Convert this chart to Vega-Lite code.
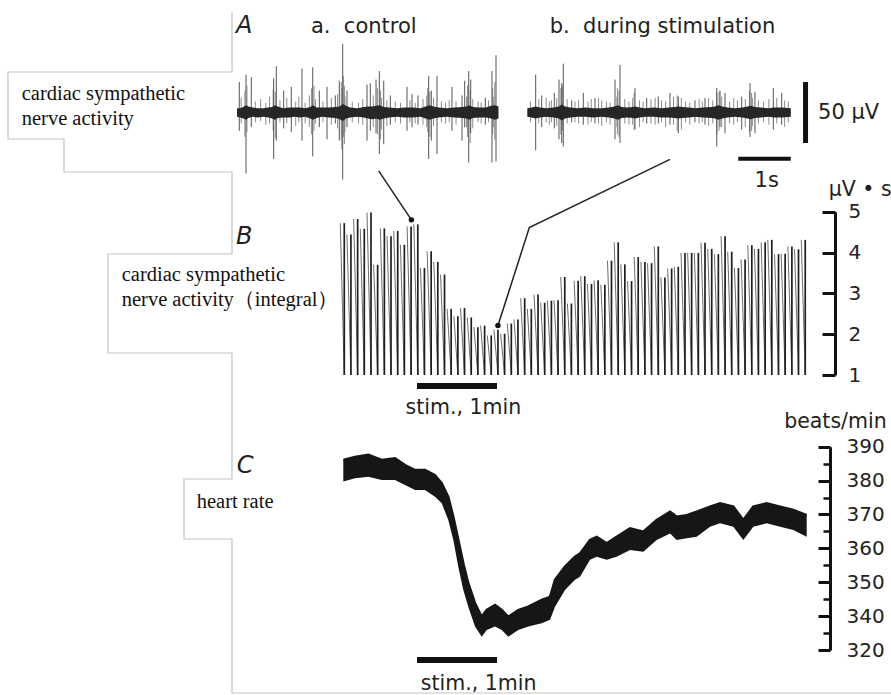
{
  "$schema": "https://vega.github.io/schema/vega-lite/v6.json",
  "width": 891,
  "height": 695,
  "autosize": {"type": "none"},
  "padding": 0,
  "background": "white",
  "config": {"view": {"stroke": null}, "axis": {"grid": false, "labelFont": "DejaVu Sans", "labelColor": "#222", "tickColor": "#111", "domainColor": "#111"}},
  "datasets": {
    "rawBand": [
      {"seg":"a","t":0.00,"lo":-3.5,"hi":3.5},{"seg":"a","t":0.06,"lo":-4,"hi":3.5},{"seg":"a","t":0.12,"lo":-5,"hi":4.5},{"seg":"a","t":0.17,"lo":-6,"hi":6},{"seg":"a","t":0.22,"lo":-4.5,"hi":5},{"seg":"a","t":0.30,"lo":-3.5,"hi":4},{"seg":"a","t":0.40,"lo":-4,"hi":3.5},{"seg":"a","t":0.50,"lo":-3.5,"hi":3.5},{"seg":"a","t":0.60,"lo":-4,"hi":4},{"seg":"a","t":0.67,"lo":-5,"hi":4.5},{"seg":"a","t":0.72,"lo":-6,"hi":6},{"seg":"a","t":0.78,"lo":-4.5,"hi":5},{"seg":"a","t":0.88,"lo":-4,"hi":3.5},{"seg":"a","t":1.00,"lo":-4,"hi":4},{"seg":"a","t":1.10,"lo":-3.5,"hi":4},{"seg":"a","t":1.20,"lo":-4,"hi":4},{"seg":"a","t":1.30,"lo":-3.5,"hi":3.5},{"seg":"a","t":1.40,"lo":-5,"hi":4.5},{"seg":"a","t":1.45,"lo":-6,"hi":6},{"seg":"a","t":1.52,"lo":-4.5,"hi":4},{"seg":"a","t":1.62,"lo":-3.5,"hi":4},{"seg":"a","t":1.75,"lo":-4,"hi":4},{"seg":"a","t":1.88,"lo":-4.5,"hi":4.5},{"seg":"a","t":1.96,"lo":-5.5,"hi":5},{"seg":"a","t":2.02,"lo":-7,"hi":7},{"seg":"a","t":2.08,"lo":-5,"hi":5.5},{"seg":"a","t":2.16,"lo":-4,"hi":4},{"seg":"a","t":2.30,"lo":-3.5,"hi":3.5},{"seg":"a","t":2.42,"lo":-4,"hi":4.5},{"seg":"a","t":2.50,"lo":-5,"hi":5},{"seg":"a","t":2.58,"lo":-5.5,"hi":5},{"seg":"a","t":2.66,"lo":-5,"hi":5.5},{"seg":"a","t":2.72,"lo":-6,"hi":6},{"seg":"a","t":2.80,"lo":-5,"hi":4.5},{"seg":"a","t":2.90,"lo":-4,"hi":4},{"seg":"a","t":3.05,"lo":-3.5,"hi":3.5},{"seg":"a","t":3.20,"lo":-4,"hi":4},{"seg":"a","t":3.35,"lo":-4,"hi":4},{"seg":"a","t":3.50,"lo":-3.5,"hi":3.5},{"seg":"a","t":3.60,"lo":-5,"hi":5},{"seg":"a","t":3.67,"lo":-6,"hi":6},{"seg":"a","t":3.75,"lo":-5,"hi":5},{"seg":"a","t":3.85,"lo":-4,"hi":4},{"seg":"a","t":4.00,"lo":-3.5,"hi":3.5},{"seg":"a","t":4.15,"lo":-4,"hi":4},{"seg":"a","t":4.30,"lo":-4.5,"hi":4.5},{"seg":"a","t":4.38,"lo":-5,"hi":5},{"seg":"a","t":4.43,"lo":-6,"hi":6},{"seg":"a","t":4.50,"lo":-4.5,"hi":4.5},{"seg":"a","t":4.62,"lo":-4,"hi":4},{"seg":"a","t":4.75,"lo":-4,"hi":4},{"seg":"a","t":4.85,"lo":-5,"hi":5.5},{"seg":"a","t":4.92,"lo":-6,"hi":6},{"seg":"a","t":4.99,"lo":-5,"hi":5},
      {"seg":"b","t":5.54,"lo":-3.5,"hi":3.5},{"seg":"b","t":5.62,"lo":-4,"hi":4},{"seg":"b","t":5.70,"lo":-5,"hi":5},{"seg":"b","t":5.78,"lo":-4,"hi":4},{"seg":"b","t":5.90,"lo":-3.5,"hi":3.5},{"seg":"b","t":6.05,"lo":-4,"hi":4},{"seg":"b","t":6.14,"lo":-5,"hi":5},{"seg":"b","t":6.20,"lo":-6.5,"hi":6.5},{"seg":"b","t":6.26,"lo":-5,"hi":5},{"seg":"b","t":6.36,"lo":-4,"hi":4},{"seg":"b","t":6.50,"lo":-3.5,"hi":3.5},{"seg":"b","t":6.65,"lo":-3.5,"hi":4},{"seg":"b","t":6.80,"lo":-4,"hi":3.5},{"seg":"b","t":6.95,"lo":-3.5,"hi":3.5},{"seg":"b","t":7.10,"lo":-4,"hi":4},{"seg":"b","t":7.20,"lo":-5,"hi":5},{"seg":"b","t":7.27,"lo":-6,"hi":6},{"seg":"b","t":7.34,"lo":-4.5,"hi":4.5},{"seg":"b","t":7.45,"lo":-4,"hi":4},{"seg":"b","t":7.55,"lo":-4.5,"hi":4.5},{"seg":"b","t":7.60,"lo":-5,"hi":5},{"seg":"b","t":7.68,"lo":-4,"hi":4},{"seg":"b","t":7.80,"lo":-3.5,"hi":3.5},{"seg":"b","t":7.95,"lo":-3.5,"hi":4},{"seg":"b","t":8.10,"lo":-4,"hi":3.5},{"seg":"b","t":8.25,"lo":-4,"hi":4},{"seg":"b","t":8.35,"lo":-4.5,"hi":4.5},{"seg":"b","t":8.42,"lo":-5,"hi":5},{"seg":"b","t":8.50,"lo":-4.5,"hi":4.5},{"seg":"b","t":8.62,"lo":-4,"hi":4},{"seg":"b","t":8.75,"lo":-3.5,"hi":3.5},{"seg":"b","t":8.90,"lo":-4,"hi":4},{"seg":"b","t":9.05,"lo":-4.5,"hi":4.5},{"seg":"b","t":9.12,"lo":-5,"hi":5},{"seg":"b","t":9.18,"lo":-6,"hi":6},{"seg":"b","t":9.26,"lo":-5,"hi":5},{"seg":"b","t":9.36,"lo":-4,"hi":4},{"seg":"b","t":9.50,"lo":-3.5,"hi":3.5},{"seg":"b","t":9.65,"lo":-4,"hi":4},{"seg":"b","t":9.74,"lo":-5,"hi":5},{"seg":"b","t":9.80,"lo":-5.5,"hi":5.5},{"seg":"b","t":9.88,"lo":-4.5,"hi":4.5},{"seg":"b","t":10.00,"lo":-4,"hi":4},{"seg":"b","t":10.15,"lo":-3.5,"hi":3.5},{"seg":"b","t":10.25,"lo":-4,"hi":4},{"seg":"b","t":10.40,"lo":-4,"hi":4},{"seg":"b","t":10.57,"lo":-3.5,"hi":3.5}
    ],
    "rawSpikes": [
      {"t":0.044,"lo":-15,"hi":25},{"t":0.172,"lo":-50,"hi":31},{"t":0.273,"lo":-12,"hi":29},{"t":0.700,"lo":-38,"hi":28},{"t":0.750,"lo":-23,"hi":38},{"t":0.891,"lo":-13,"hi":18},{"t":1.036,"lo":-16,"hi":21},{"t":1.240,"lo":-23,"hi":36},{"t":1.445,"lo":-36,"hi":37},{"t":1.571,"lo":-12,"hi":18},{"t":1.718,"lo":-22,"hi":21},{"t":1.876,"lo":-9,"hi":14},{"t":1.952,"lo":-23,"hi":26},{"t":2.017,"lo":-55,"hi":56},{"t":2.099,"lo":-12,"hi":18},{"t":2.481,"lo":-23,"hi":23},{"t":2.544,"lo":-15,"hi":24},{"t":2.653,"lo":-17,"hi":27},{"t":2.716,"lo":-34,"hi":34},{"t":2.800,"lo":-26,"hi":26},{"t":2.926,"lo":-10,"hi":14},{"t":3.244,"lo":-15,"hi":21},{"t":3.340,"lo":-12,"hi":15},{"t":3.454,"lo":-10,"hi":14},{"t":3.658,"lo":-38,"hi":30},{"t":3.708,"lo":-23,"hi":18},{"t":3.817,"lo":-34,"hi":30},{"t":4.103,"lo":-15,"hi":21},{"t":4.294,"lo":-23,"hi":14},{"t":4.345,"lo":-12,"hi":26},{"t":4.422,"lo":-41,"hi":34},{"t":4.460,"lo":-17,"hi":27},{"t":4.739,"lo":-10,"hi":12},{"t":4.866,"lo":-41,"hi":34},{"t":4.943,"lo":-40,"hi":47},
      {"t":5.700,"lo":-31,"hi":31},{"t":5.815,"lo":-12,"hi":14},{"t":6.055,"lo":-13,"hi":16},{"t":6.145,"lo":-22,"hi":27},{"t":6.197,"lo":-25,"hi":24},{"t":6.227,"lo":-28,"hi":40},{"t":6.387,"lo":-8,"hi":10},{"t":6.609,"lo":-10,"hi":16},{"t":6.832,"lo":-9,"hi":12},{"t":7.214,"lo":-22,"hi":27},{"t":7.309,"lo":-25,"hi":39},{"t":7.595,"lo":-14,"hi":20},{"t":7.819,"lo":-9,"hi":12},{"t":8.040,"lo":-9,"hi":13},{"t":8.263,"lo":-10,"hi":16},{"t":8.422,"lo":-17,"hi":13},{"t":8.740,"lo":-8,"hi":10},{"t":8.931,"lo":-10,"hi":12},{"t":9.155,"lo":-28,"hi":20},{"t":9.218,"lo":-12,"hi":18},{"t":9.313,"lo":-17,"hi":16},{"t":9.632,"lo":-14,"hi":13},{"t":9.790,"lo":-20,"hi":24},{"t":9.885,"lo":-17,"hi":17},{"t":10.235,"lo":-14,"hi":20},{"t":10.395,"lo":-10,"hi":16}
    ],
    "rawSmall": [
      {"t":0.08,"lo":-9,"hi":12},{"t":0.15,"lo":-20,"hi":18},{"t":0.19,"lo":-16,"hi":22},{"t":0.35,"lo":-8,"hi":9},{"t":0.45,"lo":-7,"hi":11},{"t":0.55,"lo":-10,"hi":8},{"t":0.62,"lo":-9,"hi":13},{"t":0.69,"lo":-15,"hi":19},{"t":0.73,"lo":-21,"hi":17},{"t":0.82,"lo":-8,"hi":10},{"t":0.95,"lo":-9,"hi":12},{"t":1.12,"lo":-11,"hi":9},{"t":1.18,"lo":-8,"hi":13},{"t":1.30,"lo":-9,"hi":8},{"t":1.38,"lo":-12,"hi":14},{"t":1.42,"lo":-18,"hi":20},{"t":1.47,"lo":-15,"hi":22},{"t":1.50,"lo":-9,"hi":11},{"t":1.64,"lo":-8,"hi":9},{"t":1.80,"lo":-10,"hi":12},{"t":1.92,"lo":-13,"hi":15},{"t":1.99,"lo":-22,"hi":25},{"t":2.00,"lo":-30,"hi":20},{"t":2.03,"lo":-20,"hi":30},{"t":2.05,"lo":-26,"hi":22},{"t":2.06,"lo":-16,"hi":13},{"t":2.20,"lo":-8,"hi":9},{"t":2.32,"lo":-9,"hi":8},{"t":2.40,"lo":-10,"hi":11},{"t":2.60,"lo":-12,"hi":14},{"t":2.68,"lo":-18,"hi":20},{"t":2.74,"lo":-22,"hi":18},{"t":2.76,"lo":-14,"hi":12},{"t":2.86,"lo":-11,"hi":10},{"t":3.02,"lo":-8,"hi":9},{"t":3.12,"lo":-9,"hi":8},{"t":3.30,"lo":-8,"hi":10},{"t":3.40,"lo":-9,"hi":8},{"t":3.55,"lo":-10,"hi":11},{"t":3.62,"lo":-12,"hi":14},{"t":3.64,"lo":-16,"hi":20},{"t":3.68,"lo":-20,"hi":17},{"t":3.75,"lo":-11,"hi":12},{"t":3.90,"lo":-8,"hi":9},{"t":3.98,"lo":-9,"hi":8},{"t":4.05,"lo":-8,"hi":10},{"t":4.18,"lo":-10,"hi":9},{"t":4.38,"lo":-12,"hi":13},{"t":4.40,"lo":-20,"hi":22},{"t":4.45,"lo":-25,"hi":18},{"t":4.50,"lo":-13,"hi":11},{"t":4.60,"lo":-8,"hi":9},{"t":4.66,"lo":-9,"hi":8},{"t":4.80,"lo":-8,"hi":10},{"t":4.88,"lo":-18,"hi":20},{"t":4.90,"lo":-12,"hi":13},{"t":4.92,"lo":-22,"hi":25},
      {"t":5.60,"lo":-8,"hi":9},{"t":5.76,"lo":-9,"hi":11},{"t":5.90,"lo":-8,"hi":12},{"t":5.96,"lo":-10,"hi":9},{"t":6.00,"lo":-8,"hi":10},{"t":6.10,"lo":-11,"hi":12},{"t":6.18,"lo":-18,"hi":20},{"t":6.21,"lo":-15,"hi":22},{"t":6.30,"lo":-9,"hi":11},{"t":6.45,"lo":-8,"hi":9},{"t":6.52,"lo":-9,"hi":10},{"t":6.70,"lo":-10,"hi":9},{"t":6.76,"lo":-8,"hi":11},{"t":6.90,"lo":-9,"hi":12},{"t":6.96,"lo":-11,"hi":10},{"t":7.05,"lo":-8,"hi":9},{"t":7.12,"lo":-10,"hi":8},{"t":7.25,"lo":-12,"hi":13},{"t":7.26,"lo":-18,"hi":20},{"t":7.29,"lo":-20,"hi":18},{"t":7.40,"lo":-9,"hi":11},{"t":7.48,"lo":-10,"hi":9},{"t":7.55,"lo":-10,"hi":12},{"t":7.58,"lo":-14,"hi":16},{"t":7.68,"lo":-12,"hi":10},{"t":7.75,"lo":-8,"hi":9},{"t":7.90,"lo":-9,"hi":11},{"t":7.98,"lo":-10,"hi":12},{"t":8.10,"lo":-8,"hi":10},{"t":8.18,"lo":-12,"hi":9},{"t":8.33,"lo":-10,"hi":13},{"t":8.40,"lo":-15,"hi":14},{"t":8.48,"lo":-14,"hi":12},{"t":8.56,"lo":-8,"hi":9},{"t":8.64,"lo":-10,"hi":8},{"t":8.82,"lo":-9,"hi":11},{"t":8.88,"lo":-8,"hi":9},{"t":9.00,"lo":-11,"hi":12},{"t":9.08,"lo":-9,"hi":10},{"t":9.16,"lo":-18,"hi":16},{"t":9.20,"lo":-15,"hi":17},{"t":9.25,"lo":-12,"hi":13},{"t":9.40,"lo":-9,"hi":9},{"t":9.48,"lo":-10,"hi":12},{"t":9.55,"lo":-8,"hi":10},{"t":9.70,"lo":-12,"hi":11},{"t":9.78,"lo":-16,"hi":18},{"t":9.82,"lo":-15,"hi":16},{"t":9.84,"lo":-11,"hi":12},{"t":9.95,"lo":-9,"hi":10},{"t":10.05,"lo":-8,"hi":9},{"t":10.15,"lo":-10,"hi":11},{"t":10.30,"lo":-9,"hi":12},{"t":10.45,"lo":-12,"hi":10},{"t":10.52,"lo":-8,"hi":9}
    ],
    "integral": [
      {"t":-0.909,"v":4.72},{"t":-0.826,"v":4.44},{"t":-0.742,"v":4.82},{"t":-0.659,"v":4.58},{"t":-0.575,"v":4.98},{"t":-0.492,"v":3.70},{"t":-0.408,"v":4.59},{"t":-0.325,"v":4.40},{"t":-0.241,"v":4.53},{"t":-0.158,"v":4.19},
      {"t":-0.074,"v":4.64},{"t":0.010,"v":4.69},{"t":0.093,"v":3.62},{"t":0.177,"v":4.03},{"t":0.260,"v":3.77},{"t":0.344,"v":3.46},{"t":0.427,"v":2.62},{"t":0.511,"v":2.44},{"t":0.594,"v":2.64},{"t":0.678,"v":2.41},
      {"t":0.761,"v":2.17},{"t":0.845,"v":2.21},{"t":0.928,"v":1.97},{"t":1.012,"v":2.11},{"t":1.095,"v":2.01},{"t":1.179,"v":2.26},{"t":1.262,"v":2.36},{"t":1.346,"v":2.88},{"t":1.429,"v":2.62},{"t":1.513,"v":2.97},
      {"t":1.596,"v":2.77},{"t":1.680,"v":2.82},{"t":1.763,"v":2.83},{"t":1.847,"v":3.40},{"t":1.930,"v":2.75},{"t":2.014,"v":3.31},{"t":2.097,"v":3.42},{"t":2.181,"v":3.23},{"t":2.264,"v":3.32},{"t":2.348,"v":3.21},
      {"t":2.431,"v":3.80},{"t":2.515,"v":4.25},{"t":2.598,"v":3.71},{"t":2.682,"v":3.30},{"t":2.765,"v":3.89},{"t":2.849,"v":3.77},{"t":2.932,"v":3.74},{"t":3.016,"v":4.15},{"t":3.099,"v":3.39},{"t":3.183,"v":3.61},
      {"t":3.266,"v":3.65},{"t":3.350,"v":3.99},{"t":3.433,"v":3.99},{"t":3.517,"v":3.99},{"t":3.600,"v":4.24},{"t":3.684,"v":4.09},{"t":3.767,"v":3.96},{"t":3.851,"v":4.40},{"t":3.934,"v":4.02},{"t":4.018,"v":3.62},
      {"t":4.101,"v":3.83},{"t":4.185,"v":4.18},{"t":4.268,"v":4.09},{"t":4.352,"v":4.25},{"t":4.435,"v":4.31},{"t":4.519,"v":3.96},{"t":4.602,"v":3.97},{"t":4.686,"v":4.15},{"t":4.769,"v":4.08},{"t":4.853,"v":4.31}
    ],
    "connectors": [
      {"g":"1","o":0,"t":-0.479,"v":6.00},{"g":"1","o":1,"t":-0.07,"v":4.80},
      {"g":"2","o":0,"t":3.1625,"v":6.28},{"g":"2","o":1,"t":1.404,"v":4.61},{"g":"2","o":2,"t":1.012,"v":2.21}
    ],
    "dots": [{"t":-0.07,"v":4.80},{"t":1.012,"v":2.21}],
    "hr": [
      {"t":-0.921,"lo":379.7,"hi":386.1},{"t":-0.775,"lo":380.7,"hi":387.0},{"t":-0.609,"lo":381.1,"hi":387.6},{"t":-0.441,"lo":380.2,"hi":386.1},{"t":-0.275,"lo":380.2,"hi":386.6},{"t":-0.150,"lo":378.7,"hi":384.6},{"t":-0.025,"lo":377.2,"hi":383.1},{"t":0.100,"lo":377.2,"hi":383.1},{"t":0.225,"lo":375.2,"hi":381.6},{"t":0.309,"lo":373.3,"hi":379.2},
      {"t":0.391,"lo":368.4,"hi":375.2},{"t":0.454,"lo":362.5,"hi":369.3},{"t":0.516,"lo":354.6,"hi":362.5},{"t":0.579,"lo":347.7,"hi":355.6},{"t":0.641,"lo":342.8,"hi":349.7},{"t":0.725,"lo":336.9,"hi":343.8},{"t":0.809,"lo":333.9,"hi":339.8},{"t":0.871,"lo":335.9,"hi":341.8},{"t":0.975,"lo":336.9,"hi":343.3},{"t":1.059,"lo":335.9,"hi":341.8},
      {"t":1.141,"lo":333.9,"hi":339.8},{"t":1.266,"lo":335.9,"hi":341.8},{"t":1.391,"lo":336.9,"hi":342.8},{"t":1.559,"lo":337.9,"hi":344.8},{"t":1.663,"lo":338.9,"hi":345.7},{"t":1.725,"lo":342.8,"hi":350.7},{"t":1.850,"lo":347.7,"hi":354.6},{"t":1.975,"lo":350.7,"hi":357.5},{"t":2.038,"lo":351.6,"hi":358.5},{"t":2.163,"lo":356.6,"hi":362.5},
      {"t":2.246,"lo":357.5,"hi":363.4},{"t":2.371,"lo":356.6,"hi":361.5},{"t":2.496,"lo":357.5,"hi":363.4},{"t":2.663,"lo":359.5,"hi":365.9},{"t":2.829,"lo":359.0,"hi":364.9},{"t":2.996,"lo":362.5,"hi":368.4},{"t":3.163,"lo":364.4,"hi":370.8},{"t":3.246,"lo":362.5,"hi":369.3},{"t":3.371,"lo":363.0,"hi":369.8},{"t":3.496,"lo":363.4,"hi":370.8},
      {"t":3.663,"lo":366.4,"hi":372.3},{"t":3.788,"lo":367.4,"hi":373.3},{"t":3.954,"lo":366.4,"hi":372.3},{"t":4.079,"lo":362.5,"hi":368.4},{"t":4.204,"lo":366.4,"hi":372.3},{"t":4.371,"lo":367.4,"hi":373.3},{"t":4.538,"lo":366.4,"hi":372.3},{"t":4.704,"lo":365.4,"hi":371.3},{"t":4.871,"lo":363.4,"hi":369.8}
    ],
    "frame": [
      {"i":0,"px":232,"py":12},{"i":1,"px":232,"py":72},{"i":2,"px":8,"py":72},{"i":3,"px":8,"py":139},{"i":4,"px":64,"py":139},{"i":5,"px":64,"py":172},{"i":6,"px":232,"py":172},{"i":7,"px":232,"py":254},{"i":8,"px":108,"py":254},{"i":9,"px":108,"py":353},{"i":10,"px":232,"py":353},{"i":11,"px":232,"py":479},{"i":12,"px":184,"py":479},{"i":13,"px":184,"py":539},{"i":14,"px":232,"py":539},{"i":15,"px":232,"py":693},{"i":16,"px":891,"py":693}
    ],
    "sideLabels": [
      {"px":21.7,"py":100,"label":"cardiac sympathetic"},{"px":21.7,"py":125,"label":"nerve activity"},
      {"px":121.7,"py":280.7,"label":"cardiac sympathetic"},{"px":121.7,"py":306,"label":"nerve activity（integral）"},
      {"px":196.7,"py":508.3,"label":"heart rate"}
    ]
  },
  "layer": [
    {
      "data": {"name": "frame"},
      "mark": {"type": "line", "color": "#c4c4c4", "strokeWidth": 1.2},
      "encoding": {
        "x": {"field": "px", "type": "quantitative", "scale": {"domain": [0, 891], "range": [0, 891], "nice": false, "zero": false}, "axis": null},
        "y": {"field": "py", "type": "quantitative", "scale": {"domain": [0, 695], "range": [0, 695], "nice": false, "zero": false}, "axis": null},
        "order": {"field": "i", "type": "quantitative"}
      }
    },
    {
      "data": {"name": "sideLabels"},
      "mark": {"type": "text", "font": "Liberation Serif", "fontSize": 20.5, "color": "#111", "align": "left", "baseline": "alphabetic"},
      "encoding": {
        "x": {"field": "px", "type": "quantitative", "scale": {"domain": [0, 891], "range": [0, 891], "nice": false, "zero": false}, "axis": null},
        "y": {"field": "py", "type": "quantitative", "scale": {"domain": [0, 695], "range": [0, 695], "nice": false, "zero": false}, "axis": null},
        "text": {"field": "label", "type": "nominal"}
      }
    },
    {
      "data": {"name": "rawSmall"},
      "mark": {"type": "rule", "color": "#808080", "strokeWidth": 0.9},
      "encoding": {
        "x": {"field": "t", "type": "quantitative", "scale": {"domain": [0, 10], "range": [237, 761], "nice": false, "zero": false}, "axis": null},
        "y": {"field": "lo", "type": "quantitative", "scale": {"domain": [-25, 25], "range": [143, 82], "nice": false, "zero": false}, "axis": null},
        "y2": {"field": "hi"}
      }
    },
    {
      "data": {"name": "rawSpikes"},
      "mark": {"type": "rule", "color": "#555", "strokeWidth": 1},
      "encoding": {
        "x": {"field": "t", "type": "quantitative", "scale": {"domain": [0, 10], "range": [237, 761], "nice": false, "zero": false}, "axis": null},
        "y": {"field": "lo", "type": "quantitative", "scale": {"domain": [-25, 25], "range": [143, 82], "nice": false, "zero": false}, "axis": null},
        "y2": {"field": "hi"}
      }
    },
    {
      "data": {"name": "rawBand"},
      "mark": {"type": "area", "color": "#262626"},
      "encoding": {
        "x": {"field": "t", "type": "quantitative", "scale": {"domain": [0, 10], "range": [237, 761], "nice": false, "zero": false}, "axis": null},
        "y": {"field": "lo", "type": "quantitative", "scale": {"domain": [-25, 25], "range": [143, 82], "nice": false, "zero": false}, "axis": null},
        "y2": {"field": "hi"},
        "detail": {"field": "seg", "type": "nominal"}
      }
    },
    {
      "data": {"values": [{"t": 10.85, "lo": -25, "hi": 25}]},
      "mark": {"type": "rule", "color": "#111", "strokeWidth": 5},
      "encoding": {
        "x": {"field": "t", "type": "quantitative", "scale": {"domain": [0, 10], "range": [237, 761], "nice": false, "zero": false}, "axis": null},
        "y": {"field": "lo", "type": "quantitative", "scale": {"domain": [-25, 25], "range": [143, 82], "nice": false, "zero": false}, "axis": null},
        "y2": {"field": "hi"}
      }
    },
    {
      "data": {"values": [{"t0": 9.567, "t1": 10.567, "v": -37.9}]},
      "mark": {"type": "rule", "color": "#111", "strokeWidth": 4},
      "encoding": {
        "x": {"field": "t0", "type": "quantitative", "scale": {"domain": [0, 10], "range": [237, 761], "nice": false, "zero": false}, "axis": null},
        "x2": {"field": "t1"},
        "y": {"field": "v", "type": "quantitative", "scale": {"domain": [-25, 25], "range": [143, 82], "nice": false, "zero": false}, "axis": null}
      }
    },
    {
      "data": {"values": [{"t": -0.02, "v": 64.9, "label": "A"}]},
      "mark": {"type": "text", "font": "DejaVu Sans", "fontStyle": "italic", "fontSize": 24, "color": "#222", "align": "left", "baseline": "alphabetic"},
      "encoding": {
        "x": {"field": "t", "type": "quantitative", "scale": {"domain": [0, 10], "range": [237, 761], "nice": false, "zero": false}, "axis": null},
        "y": {"field": "v", "type": "quantitative", "scale": {"domain": [-25, 25], "range": [143, 82], "nice": false, "zero": false}, "axis": null},
        "text": {"field": "label", "type": "nominal"}
      }
    },
    {
      "data": {"values": [{"t": 2.42, "v": 64.9, "label": "a.\u00a0\u00a0control"}, {"t": 8.12, "v": 64.9, "label": "b.\u00a0\u00a0during stimulation"}]},
      "mark": {"type": "text", "font": "DejaVu Sans", "fontSize": 21, "color": "#222", "align": "center", "baseline": "alphabetic"},
      "encoding": {
        "x": {"field": "t", "type": "quantitative", "scale": {"domain": [0, 10], "range": [237, 761], "nice": false, "zero": false}, "axis": null},
        "y": {"field": "v", "type": "quantitative", "scale": {"domain": [-25, 25], "range": [143, 82], "nice": false, "zero": false}, "axis": null},
        "text": {"field": "label", "type": "nominal"}
      }
    },
    {
      "data": {"values": [{"t": 11.09, "v": 0, "label": "50 μV"}]},
      "mark": {"type": "text", "font": "DejaVu Sans", "fontSize": 21, "color": "#222", "align": "left", "baseline": "middle"},
      "encoding": {
        "x": {"field": "t", "type": "quantitative", "scale": {"domain": [0, 10], "range": [237, 761], "nice": false, "zero": false}, "axis": null},
        "y": {"field": "v", "type": "quantitative", "scale": {"domain": [-25, 25], "range": [143, 82], "nice": false, "zero": false}, "axis": null},
        "text": {"field": "label", "type": "nominal"}
      }
    },
    {
      "data": {"values": [{"t": 10.11, "v": -56, "label": "1s"}]},
      "mark": {"type": "text", "font": "DejaVu Sans", "fontSize": 21, "color": "#222", "align": "center", "baseline": "middle"},
      "encoding": {
        "x": {"field": "t", "type": "quantitative", "scale": {"domain": [0, 10], "range": [237, 761], "nice": false, "zero": false}, "axis": null},
        "y": {"field": "v", "type": "quantitative", "scale": {"domain": [-25, 25], "range": [143, 82], "nice": false, "zero": false}, "axis": null},
        "text": {"field": "label", "type": "nominal"}
      }
    },
    {
      "data": {"name": "integral"},
      "mark": {"type": "rule", "color": "#6e6e6e", "strokeWidth": 1, "xOffset": -4},
      "encoding": {
        "x": {"field": "t", "type": "quantitative", "scale": {"domain": [-1, 5], "range": [337, 817], "nice": false, "zero": false}, "axis": null},
        "x2": {"field": "t"},
        "y": {"field": "v", "type": "quantitative", "scale": {"domain": [1, 5], "range": [375, 211.7], "nice": false, "zero": false}, "axis": null},
        "y2": {"datum": 1}
      }
    },
    {
      "data": {"name": "integral"},
      "mark": {"type": "rule", "color": "#1e1e1e", "strokeWidth": 1.7},
      "encoding": {
        "x": {"field": "t", "type": "quantitative", "scale": {"domain": [-1, 5], "range": [337, 817], "nice": false, "zero": false}, "axis": null},
        "y": {"field": "v", "type": "quantitative", "scale": {"domain": [1, 5], "range": [375, 211.7], "nice": false, "zero": false},
          "axis": {"orient": "right", "offset": -56, "values": [1, 2, 3, 4, 5], "tickSize": -13, "tickWidth": 3, "domainWidth": 3, "labelPadding": 26, "labelFontSize": 20, "labelFont": "DejaVu Sans", "title": null}},
        "y2": {"datum": 1}
      }
    },
    {
      "data": {"name": "connectors"},
      "mark": {"type": "line", "color": "#222", "strokeWidth": 1.5},
      "encoding": {
        "x": {"field": "t", "type": "quantitative", "scale": {"domain": [-1, 5], "range": [337, 817], "nice": false, "zero": false}, "axis": null},
        "y": {"field": "v", "type": "quantitative", "scale": {"domain": [1, 5], "range": [375, 211.7], "nice": false, "zero": false}, "axis": null},
        "detail": {"field": "g", "type": "nominal"},
        "order": {"field": "o", "type": "quantitative"}
      }
    },
    {
      "data": {"name": "dots"},
      "mark": {"type": "circle", "color": "#111", "size": 30, "opacity": 1},
      "encoding": {
        "x": {"field": "t", "type": "quantitative", "scale": {"domain": [-1, 5], "range": [337, 817], "nice": false, "zero": false}, "axis": null},
        "y": {"field": "v", "type": "quantitative", "scale": {"domain": [1, 5], "range": [375, 211.7], "nice": false, "zero": false}, "axis": null}
      }
    },
    {
      "data": {"values": [{"t0": 0, "t1": 1, "v": 0.73}]},
      "mark": {"type": "rule", "color": "#111", "strokeWidth": 6},
      "encoding": {
        "x": {"field": "t0", "type": "quantitative", "scale": {"domain": [-1, 5], "range": [337, 817], "nice": false, "zero": false}, "axis": null},
        "x2": {"field": "t1"},
        "y": {"field": "v", "type": "quantitative", "scale": {"domain": [1, 5], "range": [375, 211.7], "nice": false, "zero": false}, "axis": null}
      }
    },
    {
      "data": {"values": [{"t": 0.58, "v": 0.19, "label": "stim., 1min"}, {"t": 5.54, "v": 5.53, "label": "μV • s"}]},
      "mark": {"type": "text", "font": "DejaVu Sans", "fontSize": 20.5, "color": "#222", "align": "center", "baseline": "middle"},
      "encoding": {
        "x": {"field": "t", "type": "quantitative", "scale": {"domain": [-1, 5], "range": [337, 817], "nice": false, "zero": false}, "axis": null},
        "y": {"field": "v", "type": "quantitative", "scale": {"domain": [1, 5], "range": [375, 211.7], "nice": false, "zero": false}, "axis": null},
        "text": {"field": "label", "type": "nominal"}
      }
    },
    {
      "data": {"values": [{"t": -2.2625, "v": 4.21, "label": "B"}]},
      "mark": {"type": "text", "font": "DejaVu Sans", "fontStyle": "italic", "fontSize": 24, "color": "#222", "align": "left", "baseline": "alphabetic"},
      "encoding": {
        "x": {"field": "t", "type": "quantitative", "scale": {"domain": [-1, 5], "range": [337, 817], "nice": false, "zero": false}, "axis": null},
        "y": {"field": "v", "type": "quantitative", "scale": {"domain": [1, 5], "range": [375, 211.7], "nice": false, "zero": false}, "axis": null},
        "text": {"field": "label", "type": "nominal"}
      }
    },
    {
      "data": {"name": "hr"},
      "mark": {"type": "area", "color": "#161616"},
      "encoding": {
        "x": {"field": "t", "type": "quantitative", "scale": {"domain": [-1, 5], "range": [337, 817], "nice": false, "zero": false}, "axis": null},
        "y": {"field": "lo", "type": "quantitative", "scale": {"domain": [330, 390], "range": [650, 446.7], "nice": false, "zero": false},
          "axis": {"orient": "right", "offset": -61, "values": [330, 340, 350, 360, 370, 380, 390], "labelExpr": "datum.value == 330 ? '320' : datum.label", "tickSize": -12, "tickWidth": 3, "domainWidth": 3, "labelPadding": 28, "labelFontSize": 20, "labelFont": "DejaVu Sans", "title": null}},
        "y2": {"field": "hi"}
      }
    },
    {
      "data": {"name": "hr"},
      "mark": {"type": "line", "color": "#161616", "strokeWidth": 2.5},
      "encoding": {
        "x": {"field": "t", "type": "quantitative", "scale": {"domain": [-1, 5], "range": [337, 817], "nice": false, "zero": false}, "axis": null},
        "y": {"field": "hi", "type": "quantitative", "scale": {"domain": [330, 390], "range": [650, 446.7], "nice": false, "zero": false},
          "axis": {"orient": "right", "offset": -61, "values": [335, 345, 355, 365, 375, 385], "labels": false, "domain": false, "tickSize": -7, "tickWidth": 2.5, "title": null}}
      }
    },
    {
      "data": {"values": [{"t0": 0, "t1": 1, "v": 327.06}]},
      "mark": {"type": "rule", "color": "#111", "strokeWidth": 6},
      "encoding": {
        "x": {"field": "t0", "type": "quantitative", "scale": {"domain": [-1, 5], "range": [337, 817], "nice": false, "zero": false}, "axis": null},
        "x2": {"field": "t1"},
        "y": {"field": "v", "type": "quantitative", "scale": {"domain": [330, 390], "range": [650, 446.7], "nice": false, "zero": false}, "axis": null}
      }
    },
    {
      "data": {"values": [{"t": 0.77, "v": 320, "label": "stim., 1min"}, {"t": 5.23, "v": 397.3, "label": "beats/min"}]},
      "mark": {"type": "text", "font": "DejaVu Sans", "fontSize": 20.5, "color": "#222", "align": "center", "baseline": "middle"},
      "encoding": {
        "x": {"field": "t", "type": "quantitative", "scale": {"domain": [-1, 5], "range": [337, 817], "nice": false, "zero": false}, "axis": null},
        "y": {"field": "v", "type": "quantitative", "scale": {"domain": [330, 390], "range": [650, 446.7], "nice": false, "zero": false}, "axis": null},
        "text": {"field": "label", "type": "nominal"}
      }
    },
    {
      "data": {"values": [{"t": -2.254, "v": 382.3, "label": "C"}]},
      "mark": {"type": "text", "font": "DejaVu Sans", "fontStyle": "italic", "fontSize": 24, "color": "#222", "align": "left", "baseline": "alphabetic"},
      "encoding": {
        "x": {"field": "t", "type": "quantitative", "scale": {"domain": [-1, 5], "range": [337, 817], "nice": false, "zero": false}, "axis": null},
        "y": {"field": "v", "type": "quantitative", "scale": {"domain": [330, 390], "range": [650, 446.7], "nice": false, "zero": false}, "axis": null},
        "text": {"field": "label", "type": "nominal"}
      }
    }
  ],
  "resolve": {"scale": {"x": "independent", "y": "independent"}}
}
